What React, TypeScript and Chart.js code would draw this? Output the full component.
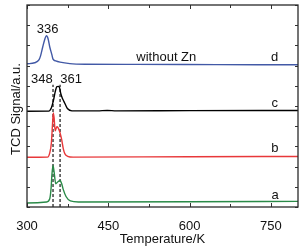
import React, { useEffect, useRef } from "react";
import { Chart, registerables } from "chart.js";

Chart.register(...registerables);

// ---- data ----
const xTickValues = [300, 375, 450, 525, 600, 675, 750];
const xTickLabels = ["300", "", "450", "", "600", "", "750"];
const yTickValues = [0, 10, 20, 30, 40, 50, 60, 70, 80, 90, 100];

// d: without Zn (blue)
const tempD = [300, 314, 322, 325, 329, 333, 336, 339, 342, 346, 348, 353, 361, 379, 407, 500, 650, 800];
const sigD = [70.9, 71.4, 72.8, 74.8, 79.2, 83.2, 84.8, 83.2, 79.2, 75.3, 73.2, 72.3, 71.7, 71.0, 70.7, 70.6, 70.5, 70.4];

// c (black)
const tempC = [300, 340, 345, 349, 352, 355, 357.5, 360, 362, 365, 368, 371, 375, 383, 430, 448, 465, 600, 800];
const sigC = [47.4, 47.45, 49.1, 53.0, 57.0, 59.5, 59.7, 59.2, 56.5, 54.0, 52.3, 50.6, 48.6, 47.6, 47.6, 47.8, 47.6, 47.7, 47.75];

// b (red)
const tempB = [300, 338, 342, 345, 347, 348.5, 350, 352, 355, 357.5, 361, 364, 367, 370, 375, 385, 600, 800];
const sigB = [24.6, 24.7, 26.8, 31.8, 40.7, 46.6, 44.1, 37.7, 39.7, 39.2, 36.7, 33.3, 28.8, 26.3, 25.1, 24.7, 24.9, 25.0];

// a (green)
const tempA = [300, 336, 342, 344.5, 346, 348, 350, 353, 357, 361, 364, 367, 372, 380, 395, 600, 800];
const sigA = [2.0, 2.5, 4.1, 9.5, 16.0, 20.6, 17.4, 11.5, 12.5, 13.1, 11.5, 8.6, 5.2, 3.0, 2.5, 2.6, 2.8];

// dashed reference lines (peak temperatures)
const dashTemps = [348, 361];
const dashRange = [0, 60.5];

// text annotations: [text, x (K), y (a.u.), align]
const annotations: [string, number, number, CanvasTextAlign][] = [
  ["336", 338, 86.0, "center"],
  ["348", 347.5, 61.6, "right"],
  ["361", 361.5, 61.6, "left"],
  ["without Zn", 557, 72.3, "center"],
  ["d", 757, 72.3, "center"],
  ["c", 757, 49.7, "center"],
  ["b", 757.5, 27.0, "center"],
  ["a", 758, 4.0, "center"],
];

const yTitle = "TCD Signal/a.u.";
const xTitle = "Temperature/K";

const FONT = "'Liberation Sans', Arial, sans-serif";

const toPts = (xs: number[], ys: number[]) => xs.map((x, i) => ({ x, y: ys[i] }));

const framePlugin = {
  id: "frameTicks",
  afterDatasetsDraw(chart: any) {
    const { ctx, chartArea } = chart;
    const { left, right, top, bottom } = chartArea;
    const xs = chart.scales.x;
    const ys = chart.scales.y;
    ctx.save();
    ctx.strokeStyle = "#333";
    ctx.lineWidth = 1;
    const seg = (x1: number, y1: number, x2: number, y2: number) => {
      ctx.beginPath();
      ctx.moveTo(x1, y1);
      ctx.lineTo(x2, y2);
      ctx.stroke();
    };
    xTickValues.forEach((v, i) => {
      const px = Math.round(xs.getPixelForValue(v)) + 0.5;
      const len = xTickLabels[i] ? 4 : 3;
      seg(px, bottom, px, bottom - len);
      seg(px, top, px, top + len);
    });
    yTickValues.forEach((v) => {
      const py = Math.round(ys.getPixelForValue(v)) + 0.5;
      seg(left, py, left + 3, py);
      seg(right, py, right - 3, py);
    });
    ctx.lineWidth = 1.3;
    ctx.strokeStyle = "#2a2a2a";
    ctx.strokeRect(left, top, right - left, bottom - top);

    ctx.fillStyle = "#111";
    ctx.font = `13px ${FONT}`;
    ctx.textBaseline = "alphabetic";
    annotations.forEach(([t, x, y, align]) => {
      ctx.textAlign = align;
      ctx.fillText(t, xs.getPixelForValue(x), ys.getPixelForValue(y));
    });

    // y axis title
    ctx.save();
    ctx.translate(19.5, (top + bottom) / 2 + 3);
    ctx.rotate(-Math.PI / 2);
    ctx.textAlign = "center";
    ctx.textBaseline = "alphabetic";
    ctx.fillText(yTitle, 0, 0);
    ctx.restore();
    ctx.restore();
  },
};

export default function App() {
  const ref = useRef<HTMLCanvasElement | null>(null);

  useEffect(() => {
    if (!ref.current) return;
    const line = (data: number[], temps: number[], color: string) => ({
      data: toPts(temps, data),
      borderColor: color,
      borderWidth: 1.4,
      pointRadius: 0,
      fill: false,
      cubicInterpolationMode: "monotone" as const,
    });
    const dashed = dashTemps.map((t) => ({
      data: dashRange.map((y) => ({ x: t, y })),
      borderColor: "#000",
      borderWidth: 1.1,
      borderDash: [3, 2],
      pointRadius: 0,
      fill: false,
    }));
    const chart = new Chart(ref.current, {
      type: "line",
      data: {
        datasets: [
          line(sigD, tempD, "#4259a6"),
          line(sigC, tempC, "#000000"),
          line(sigB, tempB, "#e8383a"),
          line(sigA, tempA, "#2a8a48"),
          ...dashed,
        ] as any,
      },
      options: {
        animation: false,
        responsive: false,
        events: [],
        layout: { padding: { top: 5, right: 7, left: 0, bottom: 0 } },
        plugins: { legend: { display: false }, tooltip: { enabled: false } },
        scales: {
          x: {
            type: "linear",
            min: 300,
            max: 800,
            grid: { display: false },
            border: { display: false },
            afterBuildTicks: (s: any) => {
              s.ticks = xTickValues.map((v) => ({ value: v }));
            },
            afterFit: (s: any) => {
              s.height = 43;
            },
            ticks: {
              autoSkip: false,
              maxRotation: 0,
              padding: 4,
              color: "#111",
              font: { size: 13, family: FONT },
              callback: (v: any) => {
                const i = xTickValues.indexOf(Number(v));
                return i >= 0 ? xTickLabels[i] : "";
              },
            },
            title: {
              display: true,
              text: xTitle,
              color: "#111",
              font: { size: 13, family: FONT },
              padding: { top: 0, bottom: 3 },
            },
          },
          y: {
            type: "linear",
            min: 0,
            max: 100,
            grid: { display: false },
            border: { display: false },
            ticks: { display: false },
            afterFit: (s: any) => {
              s.width = 27;
            },
          },
        },
      },
      plugins: [framePlugin],
    });
    return () => chart.destroy();
  }, []);

  return (
    <div style={{ position: "fixed", left: 0, top: 0, width: 305, height: 250, background: "#fff" }}>
      <canvas ref={ref} width={305} height={250} style={{ display: "block" }} />
    </div>
  );
}
